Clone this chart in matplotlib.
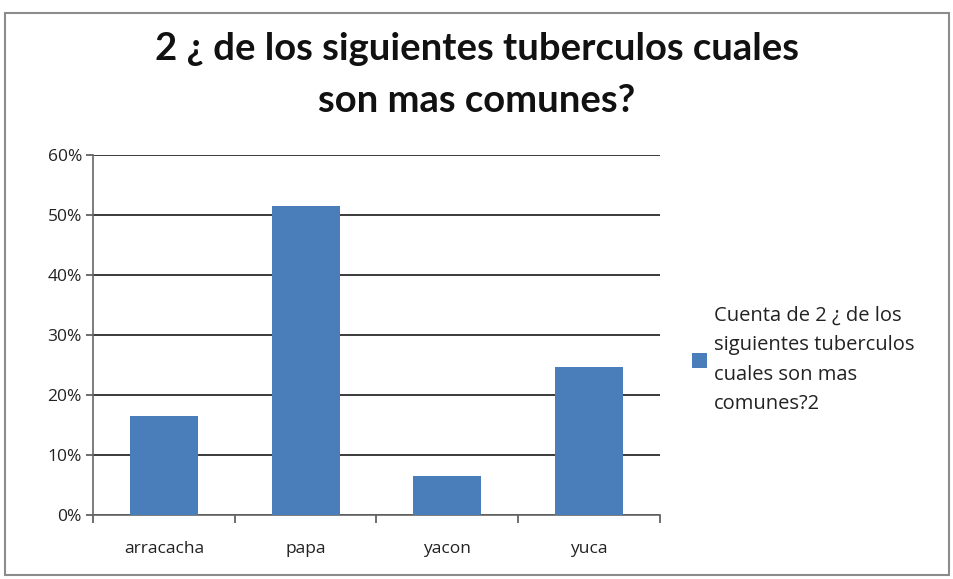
import matplotlib.pyplot as plt
from matplotlib.patches import Rectangle
from matplotlib.ticker import PercentFormatter, FixedLocator

# === DATA ===
categories = ["arracacha", "papa", "yacon", "yuca"]
values = [16.5, 51.5, 6.5, 24.7]  # percent
y_ticks = [0, 10, 20, 30, 40, 50, 60]
title = "2 ¿ de los siguientes tuberculos cuales\nson mas comunes?"
legend_label = "Cuenta de 2 ¿ de los\nsiguientes tuberculos\ncuales son mas\ncomunes?2"

W, H = 954, 579
fig = plt.figure(figsize=(W / 100, H / 100), dpi=100)
fig.patch.set_facecolor("white")

# outer chart border
fig.patches.append(Rectangle((5 / W, 4 / H), 944 / W, 562 / H, transform=fig.transFigure,
                             fill=False, edgecolor="#8c8c8c", linewidth=1.5))

ax = fig.add_axes([93 / W, 1 - 515 / H, (660 - 93) / W, (515 - 155) / H])
x = range(len(categories))
bars = ax.bar(x, values, width=0.48, color="#4a7ebb", label=legend_label, zorder=3)

ax.set_xlim(-0.5, len(categories) - 0.5)
ax.set_ylim(0, 60)
ax.set_yticks(y_ticks)
ax.yaxis.set_major_formatter(PercentFormatter(decimals=0))
ax.grid(axis="y", color="#3a3a3a", linewidth=1.4, zorder=0)

ax.set_xticks(list(x))
ax.set_xticklabels(categories, fontsize=12.5, family="Open Sans", color="#222222")
ax.xaxis.set_minor_locator(FixedLocator([i - 0.5 for i in range(len(categories) + 1)]))
ax.tick_params(axis="x", which="major", length=0, pad=19)
ax.tick_params(axis="x", which="minor", length=6, color="#555555", width=1.2)
ax.tick_params(axis="y", length=5, color="#555555", width=1.2, labelsize=12.5, pad=3)
for lbl in ax.get_yticklabels():
    lbl.set_family("Open Sans")
    lbl.set_color("#222222")

for side in ["top", "right"]:
    ax.spines[side].set_visible(False)
ax.spines["left"].set_color("#666666")
ax.spines["bottom"].set_color("#666666")
ax.spines["left"].set_linewidth(1.2)
ax.spines["bottom"].set_linewidth(1.2)

fig.text(0.5, 1 - 75 / H, title, ha="center", va="center", fontsize=27.5,
         family="Lato", fontweight="bold", linespacing=1.62, color="#111111")

leg = ax.legend(loc="center left", bbox_to_anchor=(674 / W, 1 - 360 / H),
                bbox_transform=fig.transFigure, frameon=False, handlelength=0.75,
                handleheight=0.75, handletextpad=0.35, prop={"family": "Open Sans", "size": 14.5})
for t in leg.get_texts():
    t.set_linespacing(1.62)
    t.set_color("#222222")

fig.savefig("out.png", dpi=100, facecolor="white")
